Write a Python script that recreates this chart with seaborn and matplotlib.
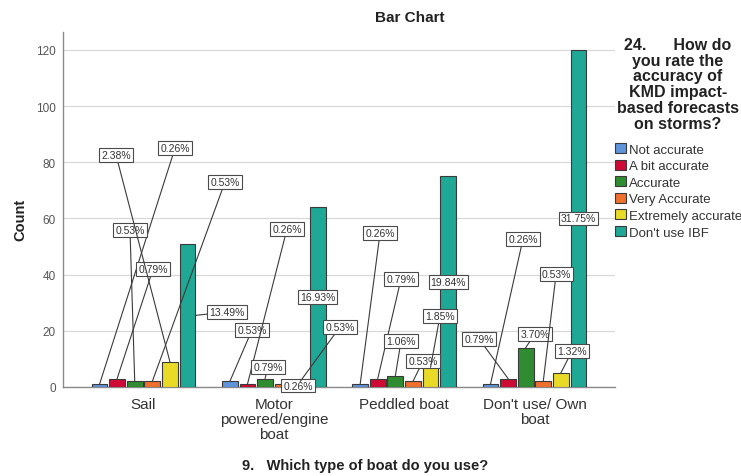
import matplotlib
matplotlib.use("Agg")
import matplotlib.pyplot as plt
from matplotlib.patches import Patch
import seaborn as sns
import pandas as pd

# --- data -------------------------------------------------------------
boats = ["Sail", "Motor\npowered/engine\nboat", "Peddled boat", "Don't use/ Own\nboat"]
ratings = ["Not accurate", "A bit accurate", "Accurate", "Very Accurate",
           "Extremely accurate", "Don't use IBF"]

not_accurate = [1, 2, 1, 1]
a_bit_accurate = [3, 1, 3, 3]
accurate = [2, 3, 4, 14]
very_accurate = [2, 1, 2, 2]
extremely_accurate = [9, 2, 7, 5]
dont_use_ibf = [51, 64, 75, 120]

series = [not_accurate, a_bit_accurate, accurate, very_accurate,
          extremely_accurate, dont_use_ibf]

colors = ["#5f93da", "#cf0a35", "#2f8c30", "#ef6f2c", "#e9da27", "#1fa895"]

# label box placement (data units) per boat, one entry per rating;
# None -> label sits in the middle of the bar
label_pos = [
    [(0.242, 85.1), (0.073, 42.0), (-0.104, 55.9), (0.625, 73.0), (-0.211, 82.6), (0.641, 26.7)],
    [(0.832, 20.3), (1.101, 56.3), (0.955, 7.1), (1.186, 0.5), (1.508, 21.4), None],
    [(1.815, 54.8), (1.976, 38.5), (1.976, 16.4), (2.145, 9.3), (2.275, 25.3), None],
    [(2.912, 52.7), (2.575, 17.1), (3.004, 18.9), (3.166, 40.2), (3.288, 12.8), None],
]

rows = []
for r, vals in zip(ratings, series):
    for b, v in zip(boats, vals):
        rows.append({"boat": b, "rating": r, "count": v})
df = pd.DataFrame(rows)
total = df["count"].sum()

# --- figure -----------------------------------------------------------
sns.set_style("white")
plt.rcParams["font.family"] = ["Liberation Sans", "DejaVu Sans"]

fig = plt.figure(figsize=(7.41, 4.77), dpi=100)
ax = fig.add_axes([63 / 741, 1 - 388 / 477, (615 - 63) / 741, (388 - 33) / 477])

sns.barplot(data=df, x="boat", y="count", hue="rating", order=boats,
            hue_order=ratings, palette=colors, saturation=1, width=0.81,
            gap=0.1, edgecolor="#3a3a3a", linewidth=0.8, legend=False,
            ax=ax, zorder=3)

ax.set_xlim(-0.618, 3.618)
ax.set_ylim(0, 126.4)
ax.set_yticks(range(0, 121, 20))
ax.yaxis.grid(True, color="#d8d8d8", linewidth=0.9, zorder=0)
ax.set_axisbelow(True)
for s in ("top", "right"):
    ax.spines[s].set_visible(False)
for s in ("left", "bottom"):
    ax.spines[s].set_color("#8a8a8a")
    ax.spines[s].set_linewidth(1.0)
ax.tick_params(axis="y", length=0, pad=5, labelsize=8.5, labelcolor="#555555")
ax.tick_params(axis="x", length=0, pad=7, labelsize=11, labelcolor="#333333")
for t in ax.get_xticklabels():
    t.set_linespacing(1.12)
ax.set_xlabel("")
ax.set_ylabel("")

# --- percentage labels ------------------------------------------------
box = dict(boxstyle="square,pad=0.18", fc="white", ec="#4a4a4a", lw=0.8)
for j, cont in enumerate(ax.containers):
    for i, bar in enumerate(cont.patches):
        val = series[j][i]
        txt = f"{val / total * 100:.2f}%"
        cx = bar.get_x() + bar.get_width() / 2
        pos = label_pos[i][j]
        if pos is None:
            ax.text(cx, val / 2, txt, ha="center", va="center", fontsize=7.5,
                    color="#333333", bbox=box, zorder=5)
            continue
        if j == len(ratings) - 1:
            anchor = (bar.get_x() + bar.get_width(), val / 2)
        else:
            anchor = (cx, val)
        ax.annotate(txt, xy=anchor, xytext=pos, ha="center", va="center",
                    fontsize=7.5, color="#333333", bbox=box, zorder=5,
                    arrowprops=dict(arrowstyle="-", color="#3a3a3a", lw=0.8,
                                    shrinkA=0, shrinkB=0))

# --- text -------------------------------------------------------------
fig.text(410 / 741, 1 - 18 / 477, "Bar Chart", ha="center", va="center",
         fontsize=11, fontweight="bold", color="#222222")
fig.text(20 / 741, 1 - 220 / 477, "Count", rotation=90, ha="center",
         va="center", fontsize=10.5, fontweight="bold", color="#222222")
fig.text(365 / 741, 1 - 466 / 477, "9.   Which type of boat do you use?",
         ha="center", va="center", fontsize=10.5, fontweight="bold",
         color="#222222")

fig.text(678 / 741, 1 - 38 / 477,
         "24.      How do\nyou rate the\naccuracy of\nKMD impact-\nbased forecasts\non storms?",
         ha="center", va="top", fontsize=11.5, fontweight="bold",
         linespacing=1.06, color="#222222")

handles = [Patch(facecolor=c, edgecolor="#3a3a3a", linewidth=0.8) for c in colors]
fig.legend(handles, ratings, loc="upper left",
           bbox_to_anchor=(615 / 741, 1 - 144 / 477), frameon=False,
           fontsize=9.5, handlelength=0.8, handleheight=0.8,
           handletextpad=0.25, labelspacing=0.3, borderpad=0,
           borderaxespad=0, labelcolor="#333333")

fig.savefig("out.png", dpi=100)
